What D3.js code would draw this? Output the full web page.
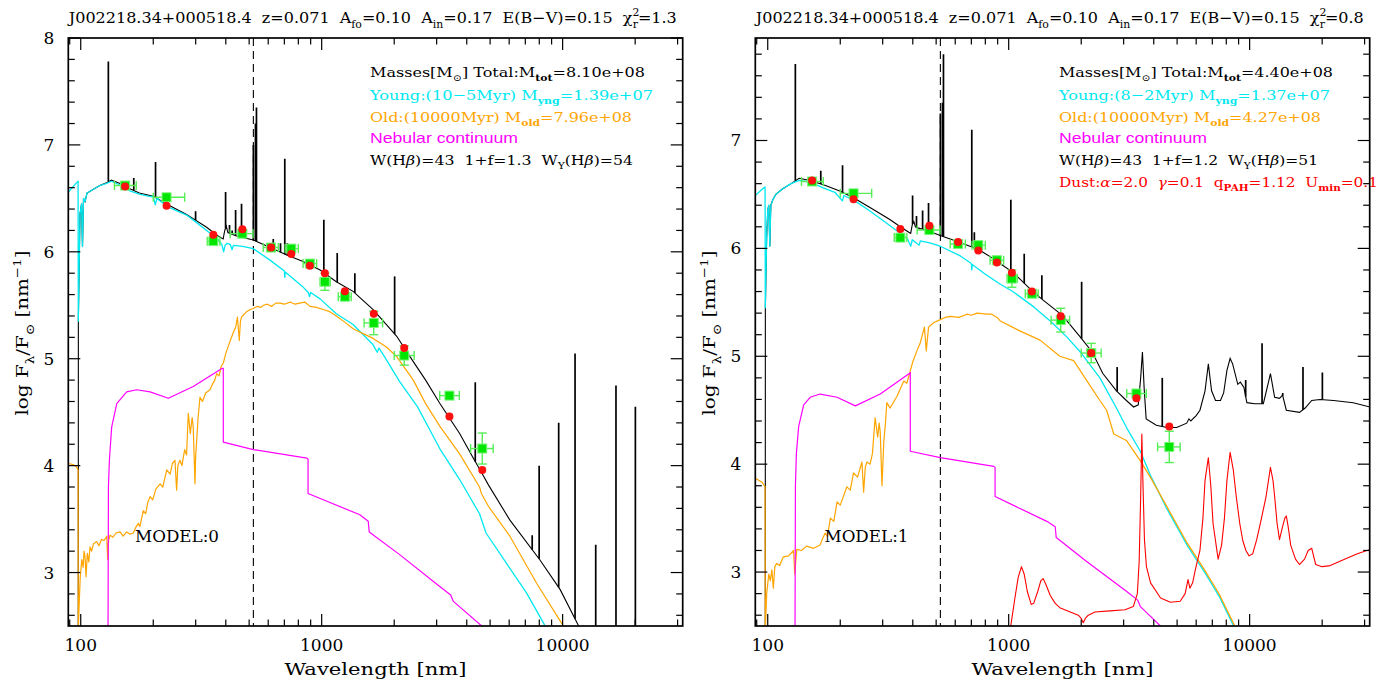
<!DOCTYPE html>
<html>
<head>
<meta charset="utf-8">
<script src="https://cdn.jsdelivr.net/npm/d3@7"></script>
<style>
  body { margin: 0; background: #fff; }
  svg { display: block; }
  text { white-space: pre; }
</style>
</head>
<body>
<svg id="chart" width="1390" height="682"></svg>
<script>
// ---------------------------------------------------------------
// SED fits of J002218.34+000518.4 : observed-frame wavelength [nm]
// versus log F_lambda / F_sun [nm^-1]
// ---------------------------------------------------------------

const waveDomain = [88.8, 31500];
const fluxFloor = 2.5;
const hBetaWave = 520.6;          // H-beta at z = 0.071

// photometric bands: FUV NUV u g r i z Y J H K W1 W2
const bandWave = [152.8, 227.1, 355.1, 468.6, 616.6, 748.0, 893.2, 1031, 1248, 1645, 2201, 3390, 4640];
const bandLo   = [138, 200, 335, 417, 572, 705, 837, 985, 1172, 1500, 2000, 3090, 4150];
const bandHi   = [170, 270, 378, 519, 661, 800, 953, 1085, 1326, 1790, 2420, 3725, 5150];
const obsFlux  = [6.62, 6.51, 6.10, 6.17, 6.04, 6.03, 5.89, 5.72, 5.58, 5.335, 5.03, 4.655, 4.16];
const obsErr   = [0.03, 0.025, 0.03, 0.03, 0.025, 0.025, 0.035, 0.08, 0.03, 0.11, 0.09, 0.03, 0.145];
const model0Flux = [6.61, 6.43, 6.16, 6.21, 6.04, 5.98, 5.87, 5.80, 5.63, 5.42, 5.10, 4.46, 3.96];
const model1Flux = [6.63, 6.455, 6.18, 6.21, 6.06, 5.98, 5.87, 5.775, 5.60, 5.37, 5.03, 4.61, 4.35];

// ---------------- MODEL 0 ----------------
const total0 = [
  [97.7,2.45],[97.75,5.35],[99.3,6.35],[100.8,6.45],[101.7,6.05],[102.7,6.5],[104.2,6.47],[106.2,6.55],
  [112,6.58],[120,6.62],[128,6.645],[134,6.67],[145.6,6.64],[160,6.59],[175,6.55],[200,6.52],[230,6.44],
  [275,6.35],[333,6.23],[370,6.15],[390,6.12],[396,6.2],[402,6.24],[408,6.18],[420,6.17],[440,6.15],
  [480,6.13],[520,6.11],[612,6.04],[716,5.97],[837,5.91],[985,5.83],[1150,5.72],[1350,5.63],[1635,5.46],
  [1857,5.32],[2048,5.21],[2325,5.02],[2700,4.8],[3090,4.583],[3737,4.30],[4233,4.08],[4700,3.9],
  [4920,3.82],[6043,3.49],[8040,3.12],[9770,2.84],[11600,2.51],[12000,2.45]
];
const young0 = [
  [88.8,6.56],[95.6,6.64],[97.5,6.66],[97.7,5.35],[99.3,6.35],[100.8,6.45],[101.7,6.05],[102.7,6.5],
  [104.2,6.47],[106.2,6.55],[112,6.58],[120,6.62],[128,6.64],[134,6.66],[145.6,6.625],[160,6.57],
  [175,6.54],[190,6.52],[200,6.515],[204,6.44],[207,6.5],[230,6.42],[275,6.344],[300,6.28],[333,6.2],
  [370,6.12],[385,6.07],[392,6.0],[397,6.06],[405,6.08],[417,6.07],[425,6.02],[430,6.06],[470,6.05],
  [520,6.03],[612,5.92],[700,5.82],[703,5.76],[706,5.81],[716,5.80],[837,5.67],[880,5.62],[890,5.58],
  [900,5.62],[985,5.56],[1150,5.42],[1350,5.32],[1635,5.13],[1700,5.06],[1730,5.1],[1857,4.99],
  [2100,4.79],[2500,4.55],[3090,4.16],[3737,3.87],[4520,3.55],[4810,3.37],[5830,3.09],[7080,2.81],
  [8410,2.51],[8800,2.45]
];
const old0 = [
  [88.8,4.02],[93,4.01],[96,3.99],[97.5,3.96],[97.7,2.45],[98.2,2.62],[99.5,2.95],[101,3.12],[102.3,3.05],
  [103.2,3.2],[104.2,3.15],[105.2,2.96],[106.5,3.18],[108,3.1],[109.3,3.24],[111,3.2],[113,3.27],
  [116.5,3.29],[119,3.25],[122,3.31],[125,3.3],[128.2,3.34],[129.4,3.12],[130.5,3.3],[132.3,3.35],
  [136,3.33],[140,3.37],[145.6,3.38],[150,3.34],[155,3.38],[160,3.36],[165.3,3.37],[169,3.42],
  [173.4,3.46],[176,3.43],[181.8,3.58],[186,3.55],[190,3.66],[194,3.71],[199,3.68],[205,3.78],
  [213.5,3.83],[219,3.8],[227.5,3.96],[235,3.92],[240,4.02],[246.1,4.05],[250,3.77],[253,4.0],[258,4.05],
  [263,4.0],[270,4.15],[275,4.1],[279.5,4.49],[285,4.3],[290,4.45],[293,4.36],[298,3.83],[300,4.1],
  [303,4.24],[307,4.45],[312.6,4.64],[320,4.6],[330,4.68],[344,4.71],[352,4.76],[360,4.8],[366.7,4.86],
  [375,4.84],[383,4.93],[390.7,4.96],[400,5.05],[416,5.16],[429,5.24],[440,5.3],[447,5.39],[455,5.17],
  [460,5.35],[465,5.39],[488,5.44],[505,5.46],[520,5.47],[540,5.49],[560,5.48],[573,5.50],[595,5.51],
  [620,5.49],[645,5.52],[672,5.52],[700,5.51],[740,5.53],[775,5.51],[810,5.52],[851,5.53],[895,5.49],
  [950,5.48],[1015,5.46],[1080,5.44],[1150,5.40],[1250,5.34],[1350,5.28],[1500,5.23],[1635,5.19],
  [1857,5.11],[2048,5.02],[2400,4.80],[2700,4.58],[3090,4.37],[3737,4.11],[4520,3.80],[4600,3.74],
  [4920,3.62],[6043,3.34],[7800,2.90],[10000,2.51],[10500,2.42]
];
const nebular0 = [
  [129.8,2.45],[130.3,3.8],[131.5,4.05],[134.4,4.36],[141.1,4.58],[155.1,4.69],[170.8,4.71],[194,4.69],
  [231,4.63],[293,4.74],[387,4.91],[390.5,4.91],[390.6,4.22],[520,4.15],[868,4.07],[878,4.06],
  [878.1,3.74],[1440,3.54],[1560,3.48],[1575,3.38],[2100,3.17],[3090,2.87],[3430,2.79],[3520,2.73],
  [4900,2.45]
];
// emission lines: observed wavelength [nm] and peak log flux
const lineWave0 = [130.2,166,204.4,299.7,399.2,414.4,425.2,439.3,464.9,520.6,531.1,536.2,629.6,674.8,
                   702.9,720.3,1020.8,1160,1373,2008,4339,7476,7990,9630,11260,13720,16650,20040];
const linePeak0 = [7.78,6.69,6.84,6.38,6.56,6.25,6.2,6.39,6.45,7.0,7.2,7.35,6.12,6.08,
                   6.87,6.08,6.30,5.99,5.80,5.77,4.78,3.35,4.0,4.40,5.05,3.26,4.75,4.55];

// ---------------- MODEL 1 ----------------
const total1 = [
  [97.7,2.45],[97.75,5.45],[99,6.1],[100,6.35],[101,6.4],[102,6.02],[103,6.4],[105,6.45],[108,6.5],
  [115,6.55],[125,6.6],[135,6.65],[150,6.63],[175,6.58],[200,6.53],[227,6.47],[270,6.37],[320,6.27],
  [355,6.2],[385,6.15],[392,6.14],[398,6.22],[404,6.25],[410,6.2],[420,6.19],[450,6.17],[480,6.15],
  [520,6.12],[620,6.06],[750,5.99],[900,5.88],[920,5.86],[1040,5.78],[1267,5.595],[1390,5.52],
  [1670,5.38],[1980,5.18],[2220,5.04],[2460,4.84],[2800,4.68],[3080,4.59],[3300,4.53],[3450,4.55],
  [3530,4.8],[3590,5.04],[3650,4.7],[3720,4.42],[4100,4.36],[4530,4.34],[4980,4.34],[5480,4.38],
  [5600,4.42],[5700,4.4],[6000,4.45],[6220,4.50],[6530,4.68],[6740,4.93],[6950,4.68],[7220,4.59],
  [7570,4.59],[7800,4.66],[8050,4.87],[8300,4.98],[8500,4.93],[8930,4.74],[9150,4.76],[9470,4.71],
  [9740,4.57],[10500,4.56],[11400,4.56],[11800,4.7],[12200,4.84],[12700,4.62],[13300,4.61],
  [13700,4.64],[14200,4.50],[16100,4.48],[17000,4.52],[18100,4.59],[19600,4.60],[22300,4.59],
  [26900,4.57],[31600,4.53]
];
const young1 = [
  [88.8,6.49],[95,6.55],[97.5,6.57],[97.7,5.45],[99,6.1],[100,6.35],[101,6.4],[102,6.02],[103,6.4],
  [105,6.45],[108,6.5],[115,6.55],[125,6.6],[135,6.63],[145,6.62],[155,6.6],[170,6.56],[190,6.52],
  [204,6.44],[207,6.49],[230,6.44],[260,6.36],[300,6.26],[340,6.17],[380,6.09],[392,6.02],[398,6.08],
  [425,6.03],[430,6.07],[470,6.05],[520,6.02],[630,5.93],[700,5.86],[703,5.8],[706,5.85],[800,5.76],
  [920,5.67],[1040,5.6],[1267,5.46],[1500,5.32],[1742,5.18],[2000,5.03],[2390,4.80],[2800,4.52],
  [3100,4.33],[3520,4.12],[3870,3.9],[4500,3.6],[5500,3.25],[6500,3.0],[7500,2.77],[8800,2.45]
];
const old1 = [
  [88.8,3.87],[95,3.83],[97.5,3.79],[97.7,2.45],[99,2.8],[101,2.98],[102.5,2.92],[104,3.02],[105.5,2.85],
  [107,3.05],[109,3.08],[112,3.06],[116,3.14],[122,3.15],[128,3.2],[129.5,2.98],[132,3.21],[138,3.2],
  [145,3.24],[155,3.22],[165,3.25],[169,3.31],[173,3.36],[177,3.33],[182,3.5],[188,3.47],[194,3.65],
  [200,3.62],[213,3.79],[220,3.76],[227,3.92],[236,3.88],[246,4.02],[250,3.74],[254,3.97],[258,4.02],
  [266,4.0],[272,4.1],[279,4.43],[286,4.25],[290,4.38],[293,4.3],[298,3.8],[303,4.2],[308,4.38],
  [312,4.57],[322,4.52],[344,4.63],[355,4.7],[367,4.77],[378,4.75],[390,4.86],[400,4.95],[416,5.05],
  [429,5.12],[447,5.27],[455,5.05],[465,5.27],[488,5.31],[520,5.34],[545,5.36],[573,5.37],[620,5.36],
  [672,5.39],[700,5.38],[740,5.4],[810,5.39],[851,5.39],[895,5.36],[920,5.33],[1100,5.24],[1350,5.15],
  [1630,5.0],[1860,4.96],[2160,4.74],[2390,4.59],[2550,4.50],[2730,4.28],[3080,4.22],[3520,4.03],
  [3870,3.88],[4500,3.62],[5500,3.27],[6500,3.02],[7500,2.79],[8900,2.45]
];
const nebular1 = [
  [129.8,2.45],[130.3,3.8],[131.5,4.1],[134.4,4.35],[141,4.55],[150,4.62],[165,4.65],[194,4.62],
  [231,4.54],[293,4.65],[387,4.84],[390.5,4.85],[390.6,4.12],[520,4.06],[868,3.98],[878,3.97],
  [878.1,3.70],[1440,3.47],[1560,3.42],[1575,3.32],[2100,3.1],[3090,2.82],[3430,2.74],[3520,2.68],
  [4500,2.45]
];
const dust1 = [
  [1012,2.45],[1060,2.75],[1095,2.95],[1130,3.05],[1160,2.98],[1195,2.82],[1240,2.7],[1270,2.71],
  [1320,2.82],[1360,2.92],[1390,2.94],[1430,2.88],[1490,2.78],[1560,2.71],[1630,2.67],[1800,2.63],
  [1945,2.6],[2000,2.57],[2040,2.53],[2080,2.57],[2140,2.6],[2280,2.63],[2630,2.64],[3040,2.65],
  [3290,2.68],[3420,2.8],[3480,3.1],[3530,3.7],[3570,4.28],[3610,3.8],[3660,3.3],[3730,3.05],
  [3880,2.9],[4270,2.76],[4690,2.72],[5150,2.73],[5400,2.8],[5550,2.93],[5650,2.85],[5800,2.9],
  [5950,3.02],[6220,3.2],[6400,3.5],[6530,3.85],[6740,4.06],[6900,3.8],[7050,3.45],[7400,3.12],
  [7650,3.25],[7860,3.5],[8050,3.85],[8300,4.11],[8550,3.95],[8800,3.7],[9100,3.45],[9370,3.29],
  [9650,3.2],[9950,3.15],[10300,3.17],[10700,3.3],[11200,3.5],[11700,3.7],[12200,3.97],[12500,3.85],
  [12700,3.7],[13000,3.45],[13300,3.3],[13700,3.42],[14000,3.5],[14200,3.52],[14500,3.4],[14800,3.25],
  [15500,3.12],[16100,3.07],[16900,3.12],[17500,3.2],[18100,3.22],[18800,3.07],[20000,3.05],
  [21600,3.06],[24900,3.12],[28000,3.17],[31600,3.21]
];
const lineWave1 = [130.2,166,204.4,399.2,414.4,439.3,464.9,520.6,531.1,536.2,702.9,720.3,1020.8,1160,
                   1373,2008,2820,4339,9630,11260,13720,16650,20040];
const linePeak1 = [7.71,6.72,6.77,6.49,6.3,6.35,6.42,7.25,7.35,7.8,7.1,6.15,6.45,5.95,
                   5.75,5.69,4.90,4.80,4.78,5.12,4.66,4.90,4.85];

// ---------------- labels ----------------
const yTickLabels0 = [3, 4, 5, 6, 7, 8];
const yTickLabels1 = [3, 4, 5, 6, 7];
const xTickLabels = [100, 1000, 10000];

// ---------------------------------------------------------------
const SERIF = "'DejaVu Serif', 'Liberation Serif', serif";
const SANS = "'Liberation Sans', 'DejaVu Sans', Arial, sans-serif";
const C_YOUNG = "#00e8f0", C_OLD = "#ffa500", C_NEB = "#ff00ff", C_DUST = "#ff0000";

const svg = d3.select("#chart");

// text with sub/superscripts; parts = [string, mode, style]
function richText(g, x, y, parts, o) {
  const t = g.append("text")
    .attr("x", x).attr("y", y)
    .attr("font-family", o.font || SERIF)
    .attr("font-size", o.size)
    .attr("fill", o.color || "#000");
  if (o.transform) t.attr("transform", o.transform);
  if (o.anchor) t.attr("text-anchor", o.anchor);
  let shift = 0;
  parts.forEach(p => {
    const mode = p[1] || "";
    const ts = t.append("tspan").text(p[0]);
    let target = 0;
    if (mode === "sub" || mode === "subback") target = o.size * 0.32;
    if (mode === "sup") target = -o.size * 0.42;
    if (target - shift !== 0) ts.attr("dy", target - shift);
    shift = target;
    if (mode) ts.attr("font-size", o.size * 0.68);
    if (mode === "subback") ts.attr("dx", -o.size * 0.42);
    if (p[2] === "i") ts.attr("font-style", "italic");
    if (p[2] === "b") ts.attr("font-weight", "bold");
  });
  if (o.len) t.attr("textLength", o.len).attr("lengthAdjust", "spacingAndGlyphs");
  return t;
}

// log-wavelength interpolation of a tabulated spectrum
function fluxAt(series, w) {
  const lw = Math.log10(w);
  for (let i = 1; i < series.length; i++) {
    const a = series[i - 1], b = series[i];
    if (w >= a[0] && w <= b[0]) {
      const f = (lw - Math.log10(a[0])) / (Math.log10(b[0]) - Math.log10(a[0]) || 1);
      return a[1] + f * (b[1] - a[1]);
    }
  }
  return fluxFloor - 0.1;
}

function drawPanel(p) {
  const x = d3.scaleLog().domain(waveDomain).range([p.left, p.right]);
  const y = d3.scaleLinear().domain([fluxFloor, p.yMax]).range([p.bottom, p.top]);
  const g = svg.append("g");

  const clipId = "clip-" + p.id;
  svg.append("clipPath").attr("id", clipId).append("rect")
    .attr("x", p.left).attr("y", p.top)
    .attr("width", p.right - p.left).attr("height", p.bottom - p.top);
  const plot = g.append("g").attr("clip-path", `url(#${clipId})`);

  const line = d3.line().x(d => x(d[0])).y(d => y(d[1]));

  // H-beta marker
  plot.append("line")
    .attr("x1", x(hBetaWave)).attr("x2", x(hBetaWave))
    .attr("y1", p.top).attr("y2", p.bottom)
    .attr("stroke", "#000").attr("stroke-width", 1.1)
    .attr("stroke-dasharray", "8,5");

  // total model
  plot.append("path").datum(p.total).attr("d", line)
    .attr("fill", "none").attr("stroke", "#000").attr("stroke-width", 1.1);
  plot.selectAll(".eline").data(p.lineWave).enter().append("line")
    .attr("x1", d => x(d)).attr("x2", d => x(d))
    .attr("y1", d => y(Math.max(fluxAt(p.total, d), fluxFloor - 0.1)))
    .attr("y2", (d, i) => y(p.linePeak[i]))
    .attr("stroke", "#000").attr("stroke-width", 1.7);

  // components
  const comps = [[p.young, C_YOUNG, 1.3], [p.old, C_OLD, 1.2], [p.nebular, C_NEB, 1.2]];
  if (p.dust) comps.push([p.dust, C_DUST, 1.1]);
  comps.forEach(c => {
    plot.append("path").datum(c[0]).attr("d", line)
      .attr("fill", "none").attr("stroke", c[1]).attr("stroke-width", c[2])
      .attr("stroke-linejoin", "round");
  });

  // photometry with error bars
  const ebar = plot.append("g").attr("stroke", "#55ee55").attr("stroke-width", 1.4).attr("fill", "none");
  const cap = 4.5;
  bandWave.forEach((w, i) => {
    const cx = x(w), cy = y(obsFlux[i]);
    const xl = x(bandLo[i]), xh = x(bandHi[i]);
    const yl = y(obsFlux[i] - obsErr[i]), yh = y(obsFlux[i] + obsErr[i]);
    ebar.append("line").attr("x1", xl).attr("x2", xh).attr("y1", cy).attr("y2", cy);
    ebar.append("line").attr("x1", xl).attr("x2", xl).attr("y1", cy - cap).attr("y2", cy + cap);
    ebar.append("line").attr("x1", xh).attr("x2", xh).attr("y1", cy - cap).attr("y2", cy + cap);
    ebar.append("line").attr("x1", cx).attr("x2", cx).attr("y1", yl).attr("y2", yh);
    ebar.append("line").attr("x1", cx - cap).attr("x2", cx + cap).attr("y1", yl).attr("y2", yl);
    ebar.append("line").attr("x1", cx - cap).attr("x2", cx + cap).attr("y1", yh).attr("y2", yh);
  });
  plot.selectAll(".obs").data(bandWave).enter().append("rect")
    .attr("x", d => x(d) - 4.5).attr("y", (d, i) => y(obsFlux[i]) - 4.5)
    .attr("width", 9).attr("height", 9)
    .attr("fill", "#00e600").attr("stroke", "#7af57a").attr("stroke-width", 1);
  plot.selectAll(".mod").data(bandWave).enter().append("circle")
    .attr("cx", d => x(d)).attr("cy", (d, i) => y(p.modelFlux[i]))
    .attr("r", 4).attr("fill", "#ff1010");

  // frame
  g.append("rect").attr("x", p.left).attr("y", p.top)
    .attr("width", p.right - p.left).attr("height", p.bottom - p.top)
    .attr("fill", "none").attr("stroke", "#000").attr("stroke-width", 1.7);

  // wavelength ticks (bottom and top)
  const ticks = x.ticks().filter(t => t >= waveDomain[0] && t <= waveDomain[1]);
  const isMajor = t => Math.abs(Math.log10(t) - Math.round(Math.log10(t))) < 1e-9;
  const tg = g.append("g").attr("stroke", "#000").attr("stroke-width", 1.2);
  ticks.forEach(t => {
    const L = isMajor(t) ? 12 : 6.5;
    tg.append("line").attr("x1", x(t)).attr("x2", x(t)).attr("y1", p.bottom).attr("y2", p.bottom - L);
    tg.append("line").attr("x1", x(t)).attr("x2", x(t)).attr("y1", p.top).attr("y2", p.top + L);
  });
  // flux ticks (left and right)
  const yt = d3.range(Math.ceil(fluxFloor * 5), Math.floor(p.yMax * 5 + 1e-6) + 1).map(k => k / 5);
  yt.forEach(v => {
    const L = Math.abs(v - Math.round(v)) < 1e-6 ? 12 : 6.5;
    tg.append("line").attr("x1", p.left).attr("x2", p.left + L).attr("y1", y(v)).attr("y2", y(v));
    tg.append("line").attr("x1", p.right).attr("x2", p.right - L).attr("y1", y(v)).attr("y2", y(v));
  });

  // tick labels
  xTickLabels.forEach(t => {
    g.append("text").attr("x", x(t)).attr("y", 651).attr("text-anchor", "middle")
      .attr("font-family", SERIF).attr("font-size", 17).text(t);
  });
  p.yLabels.forEach(v => {
    g.append("text").attr("x", p.left - 14).attr("y", y(v) + 6).attr("text-anchor", "end")
      .attr("font-family", SERIF).attr("font-size", 17).text(v);
  });

  // axis titles
  richText(g, (p.left + p.right) / 2, 675, [["Wavelength [nm]"]],
    { size: 17, anchor: "middle", len: 182 });
  const yc = 333, yx = p.left - 40;
  richText(g, yx, yc, [["log F"], ["λ", "sub"], ["/F"], ["⊙", "sub"], [" [nm"], ["−1", "sup"], ["]"]],
    { size: 17, anchor: "middle", transform: `rotate(-90 ${yx} ${yc})`, len: 165 });

  // header
  richText(g, p.left + 0.5, 23, [
    ["J002218.34+000518.4  z=0.071  A"], ["fo", "sub"], ["=0.10  A"], ["in", "sub"],
    ["=0.17  E(B−V)=0.15  χ"], ["2", "sup"], ["r", "subback"], [p.chi]
  ], { size: 15.5, len: 608 });

  // legend
  const lx = p.legendX;
  richText(g, lx, 77, [["Masses[M"], ["⊙", "sub"], ["] Total:M"], ["tot", "sub", "b"], ["=" + p.mTot]],
    { size: 13.5, len: p.legLen[0] });
  richText(g, lx, 100, [["Young:(" + p.youngAge + ") M"], ["yng", "sub", "b"], ["=" + p.mYng]],
    { size: 13.5, color: C_YOUNG, len: p.legLen[1] });
  richText(g, lx, 122, [["Old:(10000Myr) M"], ["old", "sub", "b"], ["=" + p.mOld]],
    { size: 13.5, color: C_OLD, len: p.legLen[2] });
  richText(g, lx, 143, [["Nebular continuum"]],
    { size: 15, font: SANS, color: C_NEB, len: 148 });
  richText(g, lx, 165, [["W(H"], ["β", "", "i"], [")=43  1+f=" + p.f + "  W"], ["Y", "sub"], ["(H"], ["β", "", "i"], [")=" + p.wy]],
    { size: 13.5, len: p.legLen[3] });
  if (p.dust) {
    richText(g, lx, 187, [["Dust:"], ["α", "", "i"], ["=2.0  "], ["γ", "", "i"], ["=0.1  q"], ["PAH", "sub", "b"],
      ["=1.12  U"], ["min", "sub", "b"], ["=0.1"]],
      { size: 13.5, color: C_DUST, len: 319 });
  }

  richText(g, x(p.modelLabelWave), 542, [[p.modelLabel]], { size: 17, len: 84 });
}

drawPanel({
  id: "m0", left: 68.3, right: 682.7, top: 38, bottom: 626, yMax: 8,
  total: total0, young: young0, old: old0, nebular: nebular0, dust: null,
  lineWave: lineWave0, linePeak: linePeak0, modelFlux: model0Flux, yLabels: yTickLabels0,
  chi: "=1.3", legendX: 370, mTot: "8.10e+08", youngAge: "10−5Myr", mYng: "1.39e+07",
  mOld: "7.96e+08", f: "1.3", wy: "54", legLen: [275, 283, 262, 263],
  modelLabel: "MODEL:0", modelLabelWave: 168
});
drawPanel({
  id: "m1", left: 755.3, right: 1369.7, top: 38, bottom: 626, yMax: 7.95,
  total: total1, young: young1, old: old1, nebular: nebular1, dust: dust1,
  lineWave: lineWave1, linePeak: linePeak1, modelFlux: model1Flux, yLabels: yTickLabels1,
  chi: "=0.8", legendX: 1059, mTot: "4.40e+08", youngAge: "8−2Myr", mYng: "1.37e+07",
  mOld: "4.27e+08", f: "1.2", wy: "51", legLen: [274, 271, 262, 259],
  modelLabel: "MODEL:1", modelLabelWave: 172
});
</script>
</body>
</html>
